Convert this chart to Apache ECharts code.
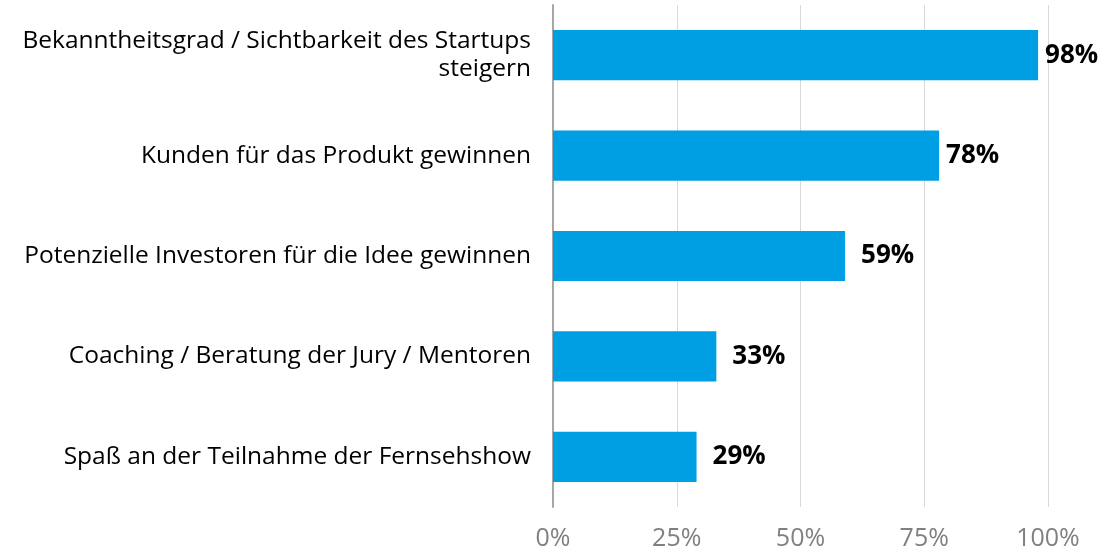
<!DOCTYPE html>
<html>
<head>
<meta charset="utf-8">
<script src="https://cdn.jsdelivr.net/npm/echarts@6/dist/echarts.min.js"></script>
<style>
html, body { margin: 0; padding: 0; background: #fff; }
#chart { width: 1111px; height: 551px; }
</style>
</head>
<body>
<div id="chart"></div>
<script>
// Kategorien (von oben nach unten)
const categories = [
    'Bekanntheitsgrad / Sichtbarkeit des Startups\nsteigern',
    'Kunden für das Produkt gewinnen',
    'Potenzielle Investoren für die Idee gewinnen',
    'Coaching / Beratung der Jury / Mentoren',
    'Spaß an der Teilnahme der Fernsehshow'
]
// Anteile in Prozent
const values = [98, 78, 59, 33, 29]
const tickLabels = ['0%', '25%', '50%', '75%', '100%']

const chart = echarts.init(document.getElementById('chart'))
chart.setOption({
    animation: false,
    textStyle: { fontFamily: 'Open Sans' },
    grid: {
        left: 553,
        right: 63,
        top: 5,
        bottom: 44,
        containLabel: false
    },
    xAxis: {
        type: 'value',
        min: 0,
        max: 100,
        interval: 25,
        axisLine: { show: false },
        axisTick: { show: false },
        splitLine: { lineStyle: { color: '#d9d9d9', width: 1 } },
        axisLabel: {
            formatter: v => tickLabels[v / 25],
            color: '#808080',
            fontSize: 25,
            margin: 19
        }
    },
    yAxis: {
        type: 'category',
        inverse: true,
        data: categories,
        axisLine: { show: true, lineStyle: { color: '#a6a6a6', width: 2 } },
        axisTick: { show: false },
        axisLabel: {
            color: '#000',
            fontSize: 24.5,
            margin: 22,
            align: 'right',
            lineHeight: 28
        }
    },
    series: [
        {
            type: 'bar',
            // die langen Balken haben ihr Label etwas näher am Balkenende
            data: values.map((v, i) => ({ value: v, label: { distance: i < 2 ? 7 : 16 } })),
            barWidth: '50%',
            itemStyle: { color: '#009FE3' },
            label: {
                show: true,
                position: 'right',
                formatter: '{c}%',
                color: '#000',
                fontSize: 26,
                fontWeight: 'bold'
            }
        }
    ]
})
</script>
</body>
</html>
